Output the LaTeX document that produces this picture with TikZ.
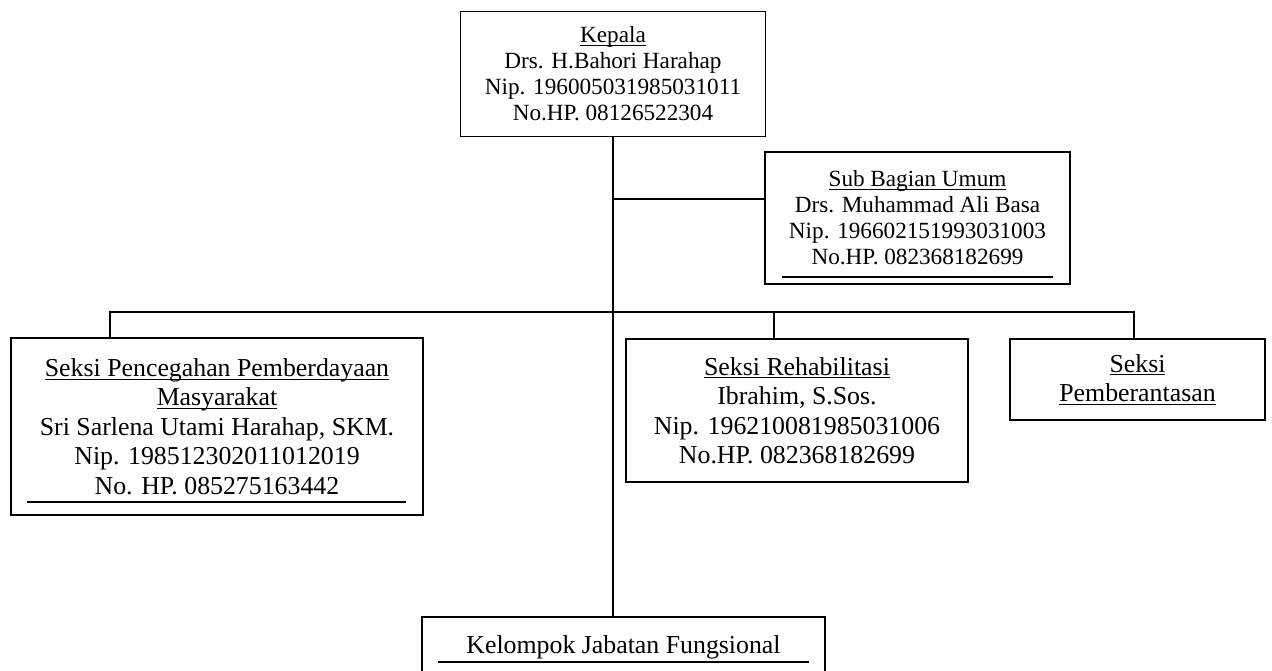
\documentclass[tikz,border=0pt]{standalone}
\usepackage{fontspec}
\setmainfont{Liberation Serif}
\usetikzlibrary{positioning}
\newcommand{\hurufkecil}{\fontsize{13.2}{14.8}\selectfont}
\newcommand{\hurufbesar}{\fontsize{14.7}{16.8}\selectfont}
\newcommand{\garisbawah}[1]{\setbox0\hbox{#1}\rlap{\rule[-1.9pt]{\wd0}{0.6pt}}\box0}
\tikzset{
  kotak/.style={draw,line width=1pt,align=center,inner sep=0pt},
  garis/.style={line width=1pt},
  lurus/.style={line width=1.2pt}
}
\begin{document}
\begin{tikzpicture}[x=0.02cm,y=-0.02cm]
    \useasboundingbox (0,0) rectangle (1272,670);
    % kepala dan sub bagian
    \node[kotak,font=\hurufkecil,minimum width=6.1cm,minimum height=2.5cm] (kepala) at (613,74)
      {\garisbawah{Kepala}\\Drs. H.Bahori Harahap\\Nip. 196005031985031011\\No.HP. 08126522304};
    \node[kotak,font=\hurufkecil,minimum width=6.1cm,minimum height=2.64cm] (sub) at (917.5,218)
      {\garisbawah{Sub Bagian Umum}\\Drs. Muhammad Ali Basa\\Nip. 196602151993031003\\No.HP. 082368182699};
    % seksi
    \node[kotak,font=\hurufbesar,minimum width=8.24cm,minimum height=3.54cm] (cegah) at (217,426.5)
      {\garisbawah{Seksi Pencegahan Pemberdayaan}\\\garisbawah{Masyarakat}\\Sri Sarlena Utami Harahap, SKM.\\Nip. 198512302011012019\\No. HP. 085275163442};
    \node[kotak,font=\hurufbesar,minimum width=6.84cm,minimum height=2.86cm] (rehab) at (797,410.5)
      {\garisbawah{Seksi Rehabilitasi}\\Ibrahim, S.Sos.\\Nip. 196210081985031006\\No.HP. 082368182699};
    \node[kotak,font=\hurufbesar,minimum width=5.1cm,minimum height=1.62cm] (berantas) at (1137.5,379.5)
      {\garisbawah{Seksi}\\\garisbawah{Pemberantasan}};
    \node[kotak,font=\hurufbesar,minimum width=8.06cm,minimum height=1.22cm] (fungsional) at (623.5,647.5)
      {Kelompok Jabatan Fungsional};
    % garis bawah dalam kotak
    \draw[lurus] (782,277) -- (1053,277);
    \draw[lurus] (27,502) -- (406,502);
    \draw[lurus] (438,662) -- (809,662);
    % penghubung
    \coordinate (cabang) at (613,199);
    \coordinate (tA) at (110,312);
    \coordinate (tB) at (774,312);
    \coordinate (tC) at (1134,312);
    \draw[garis] (kepala.south) -- (kepala.south |- fungsional.north);
    \draw[garis] (cabang) -- (cabang -| sub.west);
    \draw[garis] (tA |- cegah.north) -- (tA) -- (tC) -- (tC |- berantas.north);
    \draw[garis] (tB) -- (tB |- rehab.north);
\end{tikzpicture}
\end{document}
